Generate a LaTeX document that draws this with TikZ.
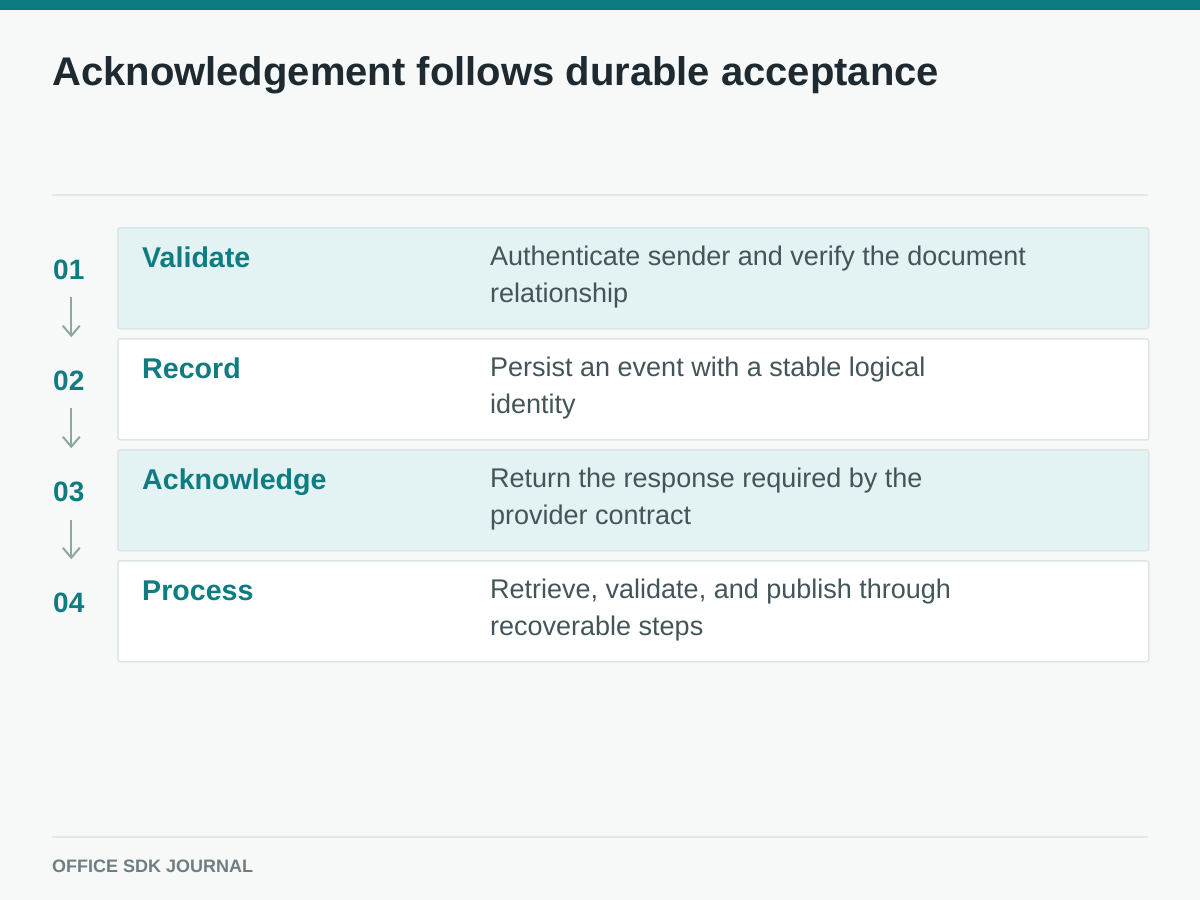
\documentclass[tikz,border=0pt]{standalone}
\usepackage{fontspec}
\setmainfont{Liberation Sans}
\usetikzlibrary{arrows.meta}
\definecolor{bgc}{HTML}{F7F9F9}
\definecolor{barc}{HTML}{0B7B80}
\definecolor{titlec}{HTML}{1F2A30}
\definecolor{tealc}{HTML}{0E7C80}
\definecolor{bodyc}{HTML}{44555A}
\definecolor{arrc}{HTML}{8FA89E}
\definecolor{borderc}{HTML}{DDE5E5}
\definecolor{shadec}{HTML}{E3F3F3}
\definecolor{rulec}{HTML}{E2E8E8}
\definecolor{footc}{HTML}{6E7E82}
\tikzset{
  stepbox/.style={draw=borderc, line width=1.5pt, rounded corners=2.5pt, anchor=north west,
    minimum width=1031pt, minimum height=101pt, inner sep=0pt},
  numtxt/.style={anchor=base west, inner sep=0pt, text=tealc, font=\fontsize{28}{32}\selectfont\bfseries},
  labtxt/.style={anchor=base west, inner sep=0pt, text=tealc, font=\fontsize{28.6}{32}\selectfont\bfseries},
  bodytxt/.style={anchor=base west, inner sep=0pt, text=bodyc, align=left, font=\fontsize{27}{37}\selectfont},
  flowarr/.style={draw=arrc, line width=2pt, -{Straight Barb[length=10pt,width=17pt,line width=2pt]}},
  rulel/.style={draw=rulec, line width=1.5pt},
}
\begin{document}
\begin{tikzpicture}[x=1pt,y=-1pt]
\useasboundingbox (0,0) rectangle (1200,900);
\fill[bgc] (0,0) rectangle (1200,900);
\fill[barc] (0,0) rectangle (1200,9.5);
\node[anchor=base west, inner sep=0pt, text=titlec, font=\fontsize{40}{46}\selectfont\bfseries] (title) at (52,85) {Acknowledgement follows durable acceptance};
\coordinate (r1a) at (52,195); \coordinate (r1b) at (1148,195);
\draw[rulel] (r1a) -- (r1b);
\coordinate (r2a) at (52,837); \coordinate (r2b) at (1148,837);
\draw[rulel] (r2a) -- (r2b);

\node[stepbox, fill=shadec] (b1) at (117,227) {};
\node[stepbox, fill=white] (b2) at (117,338) {};
\node[stepbox, fill=shadec] (b3) at (117,449) {};
\node[stepbox, fill=white] (b4) at (117,560) {};

\node[numtxt] (n1) at (53,279) {01};
\node[numtxt] (n2) at (53,390) {02};
\node[numtxt] (n3) at (53,501) {03};
\node[numtxt] (n4) at (53,612) {04};

\node[labtxt] (l1) at (142,267) {Validate};
\node[labtxt] (l2) at (142,378) {Record};
\node[labtxt] (l3) at (142,489) {Acknowledge};
\node[labtxt] (l4) at (142,600) {Process};

\node[bodytxt] (t1) at (490,302) {Authenticate sender and verify the document\\relationship};
\node[bodytxt] (t2) at (490,413) {Persist an event with a stable logical\\identity};
\node[bodytxt] (t3) at (490,524) {Return the response required by the\\provider contract};
\node[bodytxt] (t4) at (490,635) {Retrieve, validate, and publish through\\recoverable steps};

\draw[flowarr, shorten <=18pt, shorten >=33pt] ([xshift=2.5pt]n1.south) -- ([xshift=2.5pt]n2.north);
\draw[flowarr, shorten <=18pt, shorten >=33pt] ([xshift=2.5pt]n2.south) -- ([xshift=2.5pt]n3.north);
\draw[flowarr, shorten <=18pt, shorten >=33pt] ([xshift=2.5pt]n3.south) -- ([xshift=2.5pt]n4.north);

\node[anchor=base west, inner sep=0pt, text=footc, font=\fontsize{18}{22}\selectfont\bfseries] (foot) at (52,872) {OFFICE SDK JOURNAL};
\end{tikzpicture}
\end{document}
